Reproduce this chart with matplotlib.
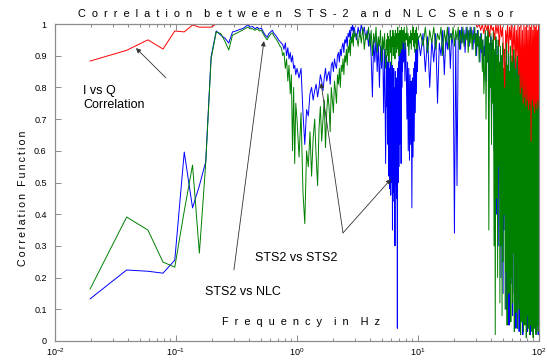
import numpy as np
import matplotlib.pyplot as plt

# ---------------------------------------------------------------------------
# Data
# ---------------------------------------------------------------------------
# shared frequency grid for the two STS2 curves, split in three bands [Hz]
freq_low = [
    0.0195, 0.0391, 0.0586, 0.0781, 0.0977, 0.117, 0.137, 0.156, 0.176, 0.195,
    0.215, 0.234, 0.254, 0.273, 0.293, 0.313, 0.332, 0.352, 0.371, 0.391,
    0.41, 0.43, 0.449, 0.469, 0.488, 0.508, 0.527, 0.547, 0.566, 0.586,
    0.605, 0.625, 0.645, 0.664, 0.684, 0.703, 0.723, 0.742, 0.762, 0.781,
    0.801, 0.82, 0.84, 0.859, 0.879, 0.898, 0.918, 0.938, 0.957, 0.977,
    1.0, 1.04, 1.08, 1.12, 1.16, 1.2, 1.24, 1.28, 1.32, 1.36,
    1.4, 1.44, 1.48, 1.52, 1.56, 1.6, 1.64, 1.68, 1.72, 1.76,
    1.8, 1.84, 1.88, 1.92, 1.96, 2.0, 2.04, 2.08, 2.12, 2.16,
    2.2, 2.24, 2.28, 2.32, 2.36, 2.4, 2.44, 2.48, 2.52, 2.56,
    2.6, 2.64, 2.68, 2.72, 2.76, 2.8, 2.84, 2.88, 2.92, 2.96,
    3.0,
]
freq_mid = [
    3.1, 3.2, 3.3, 3.4, 3.5, 3.6, 3.7, 3.8, 3.9, 4.0,
    4.1, 4.2, 4.3, 4.4, 4.5, 4.6, 4.7, 4.8, 4.9, 5.0,
    5.1, 5.2, 5.3, 5.4,
    5.5, 5.55, 5.6, 5.65, 5.7, 5.75, 5.8, 5.85, 5.9, 5.95,
    6.0, 6.05, 6.1, 6.15, 6.2, 6.25, 6.3, 6.35, 6.4, 6.45,
    6.5, 6.55, 6.6, 6.65, 6.7, 6.75, 6.8, 6.85, 6.9, 6.95,
    7.0, 7.05, 7.1, 7.15, 7.2, 7.25, 7.3, 7.35, 7.4, 7.45,
    7.5,
    7.6, 7.7, 7.8, 7.9, 8.0, 8.1, 8.2, 8.3, 8.4, 8.5,
    8.6, 8.7, 8.8, 8.9, 9.0, 9.1, 9.2, 9.3, 9.4, 9.5,
    9.6, 9.7, 9.8, 9.9, 10.0,
    10.5, 11, 11.5, 12, 12.5, 13, 13.5, 14, 14.5, 15,
    15.5, 16, 16.5, 17, 17.5, 18, 18.5, 19, 19.5, 20,
    20.5, 21, 21.5, 22, 22.5, 23, 23.5, 24, 24.5, 25,
    25.5, 26, 26.5, 27, 27.5, 28, 28.5, 29, 29.5, 30,
    30.5, 31, 31.5, 32, 32.5, 33, 33.5, 34, 34.5, 35,
]
freq_high = [
    35.5, 36, 36.5, 37, 37.5, 38, 38.5, 39, 39.5, 40,
    40.5, 41, 41.5, 42, 42.5, 43, 43.5, 44, 44.5, 45,
    45.5, 46, 46.5, 47, 47.5, 48, 48.5, 49, 49.5, 50,
    50.5, 51, 51.5, 52, 52.5, 53, 53.5, 54, 54.5, 55,
    55.5, 56, 56.5, 57, 57.5, 58, 58.5, 59, 59.5, 60,
    60.5, 61, 61.5, 62, 62.5, 63, 63.5, 64, 64.5, 65,
    65.5, 66, 66.5, 67, 67.5, 68, 68.5, 69, 69.5, 70,
    70.5, 71, 71.5, 72, 72.5, 73, 73.5, 74, 74.5, 75,
    75.5, 76, 76.5, 77, 77.5, 78, 78.5, 79, 79.5, 80,
    80.5, 81, 81.5, 82, 82.5, 83, 83.5, 84, 84.5, 85,
    85.5, 86, 86.5, 87, 87.5, 88, 88.5, 89, 89.5, 90,
    90.5, 91, 91.5, 92, 92.5, 93, 93.5, 94, 94.5, 95,
    95.5, 96, 96.5, 97, 97.5, 98, 98.5, 99, 99.5, 100,
]

# STS2 vs STS2 (blue)
sts2_low = [
    0.133, 0.224, 0.22, 0.214, 0.255, 0.596, 0.42, 0.49, 0.565, 0.896,
    0.978, 0.965, 0.955, 0.94, 0.975, 0.978, 0.982, 0.985, 0.99, 0.997,
    0.99, 0.992, 0.985, 0.99, 0.984, 0.987, 0.975, 0.965, 0.958, 0.97,
    0.975, 0.98, 0.97, 0.965, 0.958, 0.95, 0.945, 0.94, 0.935, 0.92,
    0.94, 0.9, 0.925, 0.89, 0.91, 0.88, 0.9, 0.86, 0.87, 0.84,
    0.86, 0.83, 0.86, 0.72, 0.62, 0.73, 0.71, 0.78, 0.80, 0.76,
    0.79, 0.81, 0.77, 0.80, 0.84, 0.82, 0.79, 0.83, 0.86, 0.82,
    0.84, 0.85, 0.81, 0.87, 0.88, 0.85, 0.89, 0.87, 0.86, 0.90,
    0.91, 0.88, 0.92, 0.90, 0.93, 0.94, 0.91, 0.95, 0.94, 0.96,
    0.93, 0.97, 0.96, 0.98, 0.95, 0.99, 0.98, 1.0, 0.97, 0.99,
    0.98,
]
sts2_mid = [
    0.95, 0.99, 0.96, 1.0, 0.97, 0.99, 0.95, 0.98, 0.93, 0.97,
    0.90, 0.77, 0.95, 0.88, 0.96, 0.85, 0.94, 0.80, 0.93, 0.86,
    0.95, 0.72, 0.92, 0.56,
    0.90, 0.74, 0.88, 0.62, 0.90, 0.52, 0.86, 0.48, 0.88, 0.46,
    0.84, 0.50, 0.87, 0.35, 0.82, 0.47, 0.86, 0.44, 0.80, 0.30,
    0.85, 0.49, 0.83, 0.45, 0.78, 0.04, 0.86, 0.50, 0.88, 0.55,
    0.90, 0.62, 0.92, 0.72, 0.94, 0.56, 0.93, 0.80, 0.95, 0.85,
    0.94,
    0.88, 0.95, 0.82, 0.94, 0.86, 0.70, 0.88, 0.60, 0.86, 0.57,
    0.84, 0.62, 0.82, 0.42, 0.83, 0.58, 0.86, 0.63, 0.88, 0.72,
    0.92, 0.78, 0.95, 0.85, 0.96,
    0.90, 0.97, 0.85, 0.96, 0.80, 0.95, 0.88, 0.97, 0.75, 0.94,
    0.90, 0.98, 0.84, 0.96, 0.92, 0.99, 0.86, 0.97, 0.93, 0.34,
    0.96, 0.49, 0.95, 0.98, 0.92, 0.99, 0.94, 0.98, 0.91, 0.99,
    0.95, 0.98, 0.93, 0.99, 0.96, 0.98, 0.92, 0.99, 0.94, 0.97,
    0.90, 0.98, 0.93, 0.96, 0.88, 0.97, 0.91, 0.95, 0.86, 0.93,
]
sts2_high = [
    0.90, 0.97, 0.82, 0.95, 0.88, 0.98, 0.76, 0.93, 0.85, 0.96,
    0.70, 0.94, 0.80, 0.97, 0.60, 0.91, 0.72, 0.95, 0.40, 0.89,
    0.65, 0.93, 0.30, 0.87, 0.55, 0.92, 0.20, 0.88, 0.48, 0.91,
    0.15, 0.85, 0.35, 0.90, 0.62, 0.86, 0.10, 0.92, 0.40, 0.84,
    0.25, 0.89, 0.05, 0.83, 0.50, 0.90, 0.18, 0.86, 0.60, 0.88,
    0.08, 0.82, 0.35, 0.89, 0.15, 0.84, 0.55, 0.87, 0.04, 0.80,
    0.30, 0.88, 0.12, 0.83, 0.45, 0.86, 0.03, 0.79, 0.25, 0.85,
    0.60, 0.78, 0.07, 0.84, 0.40, 0.80, 0.02, 0.86, 0.20, 0.77,
    0.50, 0.83, 0.06, 0.79, 0.30, 0.85, 0.10, 0.76, 0.39, 0.82,
    0.03, 0.77, 0.22, 0.84, 0.08, 0.78, 0.45, 0.81, 0.02, 0.76,
    0.15, 0.83, 0.35, 0.75, 0.05, 0.82, 0.25, 0.78, 0.02, 0.80,
    0.12, 0.76, 0.40, 0.83, 0.06, 0.77, 0.20, 0.81, 0.03, 0.75,
    0.30, 0.82, 0.09, 0.78, 0.15, 0.80, 0.02, 0.76, 0.10, 0.78,
]

# STS2 vs NLC (green)
nlc_low = [
    0.164, 0.391, 0.35, 0.249, 0.233, 0.41, 0.555, 0.277, 0.56, 0.89,
    0.975, 0.97, 0.945, 0.918, 0.965, 0.97, 0.975, 0.98, 0.985, 0.99,
    0.985, 0.985, 0.98, 0.985, 0.978, 0.98, 0.968, 0.958, 0.95, 0.96,
    0.968, 0.972, 0.962, 0.955, 0.948, 0.94, 0.93, 0.925, 0.9, 0.91,
    0.86, 0.89, 0.82, 0.87, 0.78, 0.84, 0.6, 0.8, 0.56, 0.75,
    0.7, 0.58, 0.72, 0.47, 0.37, 0.60, 0.55, 0.66, 0.52, 0.64,
    0.70, 0.58, 0.49, 0.67, 0.74, 0.63, 0.70, 0.76, 0.61, 0.72,
    0.78, 0.74, 0.66, 0.80, 0.76, 0.72, 0.82, 0.79, 0.75, 0.84,
    0.81, 0.86, 0.80, 0.87, 0.85, 0.89, 0.84, 0.90, 0.88, 0.92,
    0.87, 0.93, 0.91, 0.95, 0.90, 0.96, 0.94, 0.97, 0.93, 0.98,
    0.96,
]
nlc_mid = [
    0.97, 0.93, 0.98, 0.94, 0.99, 0.92, 0.97, 0.95, 0.99, 0.93,
    0.98, 0.90, 0.97, 0.94, 0.99, 0.91, 0.96, 0.93, 0.98, 0.88,
    0.96, 0.92, 0.97, 0.86,
    0.95, 0.92, 0.97, 0.90, 0.96, 0.88, 0.95, 0.93, 0.98, 0.91,
    0.96, 0.87, 0.95, 0.93, 0.98, 0.90, 0.97, 0.92, 0.96, 0.89,
    0.98, 0.93, 0.97, 0.91, 0.96, 0.94, 0.99, 0.92, 0.97, 0.90,
    0.96, 0.93, 0.98, 0.91, 0.97, 0.94, 0.99, 0.92, 0.97, 0.95,
    0.98,
    0.94, 0.99, 0.92, 0.97, 0.95, 0.99, 0.93, 0.97, 0.90, 0.96,
    0.94, 0.98, 0.92, 0.97, 0.95, 0.99, 0.93, 0.97, 0.91, 0.98,
    0.94, 0.99, 0.92, 0.97, 0.95,
    0.97, 0.93, 0.99, 0.91, 0.98, 0.94, 0.99, 0.92, 0.97, 0.95,
    0.99, 0.90, 0.98, 0.94, 0.99, 0.92, 0.97, 0.95, 0.99, 0.93,
    0.98, 0.95, 0.99, 0.92, 0.98, 0.94, 0.99, 0.93, 0.97, 0.95,
    0.99, 0.91, 0.98, 0.94, 0.99, 0.92, 0.97, 0.95, 0.99, 0.90,
    0.97, 0.93, 0.98, 0.88, 0.96, 0.92, 0.97, 0.85, 0.95, 0.78,
]
nlc_high = [
    0.85, 0.98, 0.70, 0.96, 0.88, 0.99, 0.35, 0.94, 0.80, 0.97,
    0.62, 0.95, 0.75, 0.98, 0.30, 0.92, 0.02, 0.96, 0.45, 0.90,
    0.20, 0.95, 0.55, 0.88, 0.12, 0.93, 0.30, 0.90, 0.08, 0.94,
    0.25, 0.86, 0.40, 0.92, 0.10, 0.88, 0.22, 0.95, 0.05, 0.87,
    0.30, 0.91, 0.15, 0.85, 0.35, 0.93, 0.06, 0.88, 0.20, 0.90,
    0.12, 0.84, 0.28, 0.92, 0.03, 0.86, 0.18, 0.89, 0.09, 0.83,
    0.25, 0.90, 0.04, 0.85, 0.15, 0.88, 0.10, 0.82, 0.22, 0.87,
    0.02, 0.80, 0.12, 0.86, 0.06, 0.82, 0.18, 0.88, 0.03, 0.79,
    0.10, 0.85, 0.05, 0.81, 0.14, 0.87, 0.01, 0.80, 0.08, 0.84,
    0.12, 0.78, 0.04, 0.86, 0.15, 0.80, 0.02, 0.83, 0.09, 0.79,
    0.05, 0.85, 0.13, 0.77, 0.03, 0.84, 0.07, 0.80, 0.01, 0.82,
    0.10, 0.78, 0.04, 0.85, 0.12, 0.79, 0.06, 0.83, 0.02, 0.77,
    0.09, 0.84, 0.05, 0.80, 0.11, 0.82, 0.03, 0.78, 0.07, 0.80,
]

# I vs Q correlation (red), own frequency grid
freq_iq = [
    0.0195, 0.0391, 0.0586, 0.0781, 0.0977, 0.117, 0.137, 0.156, 0.176, 0.195,
    0.215, 30,
    31, 32, 33, 34, 35, 36, 37, 38, 39, 40,
    41, 42, 43, 44, 45, 46, 47, 48, 49, 50,
    51, 52, 53, 54, 55, 56, 57, 58, 59, 60,
    61, 62, 63, 64, 65, 66, 67, 68, 69, 70,
    71, 72, 73, 74, 75, 76, 77, 78, 79, 80,
    81, 82, 83, 84, 85, 86, 87, 88, 89, 90,
    91, 92, 93, 94, 95, 96, 97, 98, 99, 100,
]
iq_corr = [
    0.883, 0.917, 0.95, 0.921, 0.978, 0.975, 0.997, 0.99, 0.99, 0.99,
    1.0, 1.0,
    0.99, 1.0, 0.98, 1.0, 0.97, 1.0, 0.98, 1.0, 0.96, 1.0,
    0.98, 0.99, 0.95, 1.0, 0.97, 1.0, 0.93, 1.0, 0.96, 0.99,
    0.90, 0.80, 0.98, 0.94, 1.0, 0.91, 0.99, 0.95, 1.0, 0.88,
    0.99, 0.92, 1.0, 0.86, 0.98, 0.90, 1.0, 0.84, 0.99, 0.78,
    1.0, 0.80, 0.98, 0.75, 1.0, 0.77, 0.99, 0.74, 1.0, 0.76,
    0.98, 0.73, 1.0, 0.75, 0.99, 0.63, 1.0, 0.76, 0.98, 0.74,
    1.0, 0.72, 0.99, 0.75, 1.0, 0.73, 0.98, 0.76, 1.0, 0.74,
]

TITLE = "Correlation between STS-2 and NLC Sensor"
XLABEL = "Frequency in Hz"
YLABEL = "Correlation Function"
yticks = [0, 0.1, 0.2, 0.3, 0.4, 0.5, 0.6, 0.7, 0.8, 0.9, 1]

# ---------------------------------------------------------------------------
# Style
# ---------------------------------------------------------------------------
plt.rcParams["font.family"] = ["Liberation Sans", "DejaVu Sans"]
plt.rcParams["mathtext.default"] = "regular"

AXIS_GRAY = "#8c8c8c"
ARROW_KW = dict(arrowstyle="-|>", color="#333333", lw=0.6,
                mutation_scale=7, shrinkA=0, shrinkB=0)


def spaced(text, sep, word_sep):
    """Letter-spaced version of a label (as in the old Matlab figure)."""
    return word_sep.join(sep.join(w) for w in text.split(" "))


freq = np.array(freq_low + freq_mid + freq_high)
sts2 = np.array(sts2_low + sts2_mid + sts2_high)
nlc = np.array(nlc_low + nlc_mid + nlc_high)

fig = plt.figure(figsize=(5.48, 3.6), dpi=100)
ax = fig.add_axes([55 / 548, 19 / 360, 484 / 548, 317 / 360])

ax.plot(freq, sts2, color="#0000ff", lw=0.7)
ax.plot(freq, nlc, color="#008000", lw=0.7)
ax.plot(freq_iq, iq_corr, color="#ff0000", lw=0.7)

ax.set_xscale("log")
ax.set_xlim(0.01, 100)
ax.set_ylim(0, 1)
ax.set_yticks(yticks)
ax.set_yticklabels([f"{v:g}" for v in yticks])

for sp in ax.spines.values():
    sp.set_color(AXIS_GRAY)
    sp.set_linewidth(0.9)
ax.tick_params(which="both", direction="in", top=True, right=True,
               color=AXIS_GRAY, labelsize=6.5, width=0.7)
ax.tick_params(which="major", length=4, pad=4)
ax.tick_params(which="minor", length=2.2)
ax.tick_params(axis="y", pad=6)

# annotations
ax.text(0.0170, 0.767, "I vs Q\nCorrelation", fontsize=9, ha="left",
        va="center", linespacing=1.15)
ax.annotate("", xy=(0.0467, 0.924), xytext=(0.0826, 0.83), arrowprops=ARROW_KW)

ax.text(0.174, 0.155, "STS2 vs NLC", fontsize=9, ha="left", va="center")
ax.annotate("", xy=(0.533, 0.946), xytext=(0.301, 0.224), arrowprops=ARROW_KW)

ax.text(0.45, 0.262, "STS2 vs STS2", fontsize=9, ha="left", va="center")
ax.annotate("", xy=(1.58, 0.814), xytext=(2.40, 0.341), arrowprops=ARROW_KW)
ax.annotate("", xy=(5.98, 0.511), xytext=(2.40, 0.341), arrowprops=ARROW_KW)

# labels
ax.text(0.508, 0.06, spaced(XLABEL, "  ", "    "), transform=ax.transAxes,
        fontsize=7.9, ha="center", va="center")
fig.text(0.539, 0.961, spaced(TITLE, "  ", "    "), fontsize=7.9,
         ha="center", va="center")
fig.text(0.042, 0.449, spaced(YLABEL, "\u2009", "\u2009 \u2009"), fontsize=7.6,
         rotation=90, ha="center", va="center")

fig.savefig("out.png", dpi=100)
